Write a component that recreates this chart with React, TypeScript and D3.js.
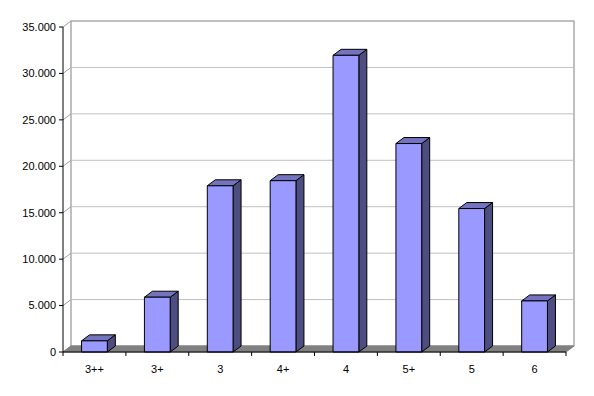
import React from "react";
import * as d3 from "d3";

const categories = ["3++", "3+", "3", "4+", "4", "5+", "5", "6"];
const values = [1200, 5900, 17900, 18450, 31950, 22450, 15450, 5500];
const yTicks = [0, 5000, 10000, 15000, 20000, 25000, 30000, 35000];

const W = 594;
const H = 396;
const left = 63;
const right = 566;
const bottom = 352;
const top = 27;
const DX = 8;
const DY = -6;

const fmt = (v: number) => (v === 0 ? "0" : d3.format(",")(v).replace(/,/g, "."));

export default function App() {
  const x = d3.scaleBand<string>().domain(categories).range([left, right]).padding(0);
  const y = d3.scaleLinear().domain([0, 35000]).range([bottom, top]);
  const bw = x.bandwidth() * 0.41;
  const font = "'Liberation Sans', Arial, sans-serif";

  return (
    <svg width={W} height={H} style={{ position: "absolute", left: 0, top: 0, background: "#fff" }}>
      {/* back wall */}
      <rect x={left + DX} y={top + DY} width={right - left} height={bottom - top} fill="#fff" stroke="#808080" strokeWidth={1} />
      {/* gridlines + left wall diagonals */}
      {yTicks.map((t) => (
        <g key={t}>
          {t > 0 && (
            <line x1={left + DX} x2={right + DX} y1={y(t) + DY} y2={y(t) + DY} stroke="#c0c0c0" strokeWidth={1} />
          )}
          <line x1={left} x2={left + DX} y1={y(t)} y2={y(t) + DY} stroke="#a0a0a0" strokeWidth={1} />
        </g>
      ))}
      {/* floor */}
      <polygon
        points={`${left},${bottom} ${right},${bottom} ${right + DX},${bottom + DY} ${left + DX},${bottom + DY}`}
        fill="#808080"
        stroke="#808080"
      />
      {/* bars */}
      {categories.map((c, i) => {
        const cx = (x(c) as number) + x.bandwidth() / 2;
        const x0 = cx - bw / 2;
        const x1 = cx + bw / 2;
        const yt = y(values[i]);
        const yb = y(0);
        return (
          <g key={c} stroke="#000" strokeWidth={1} strokeLinejoin="round">
            <polygon points={`${x1},${yt} ${x1 + DX},${yt + DY} ${x1 + DX},${yb + DY} ${x1},${yb}`} fill="#4d4d80" />
            <polygon points={`${x0},${yt} ${x0 + DX},${yt + DY} ${x1 + DX},${yt + DY} ${x1},${yt}`} fill="#7373bf" />
            <rect x={x0} y={yt} width={bw} height={yb - yt} fill="#9999ff" />
          </g>
        );
      })}
      {/* y axis */}
      <line x1={left} x2={left} y1={top} y2={bottom} stroke="#000" />
      {yTicks.map((t) => (
        <g key={"yt" + t}>
          <line x1={left - 4} x2={left} y1={y(t)} y2={y(t)} stroke="#000" />
          <text x={left - 7} y={y(t)} dy="0.35em" textAnchor="end" fontFamily={font} fontSize={11} fill="#000">
            {fmt(t)}
          </text>
        </g>
      ))}
      {/* x axis */}
      <line x1={left} x2={right} y1={bottom} y2={bottom} stroke="#000" />
      {categories.map((c) => (
        <line key={"xt" + c} x1={(x(c) as number) + x.bandwidth()} x2={(x(c) as number) + x.bandwidth()} y1={bottom} y2={bottom + 4} stroke="#000" />
      ))}
      <line x1={left} x2={left} y1={bottom} y2={bottom + 4} stroke="#000" />
      {categories.map((c) => (
        <text key={"xl" + c} x={(x(c) as number) + x.bandwidth() / 2} y={bottom + 21} textAnchor="middle" fontFamily={font} fontSize={11} fill="#000">
          {c}
        </text>
      ))}
    </svg>
  );
}
